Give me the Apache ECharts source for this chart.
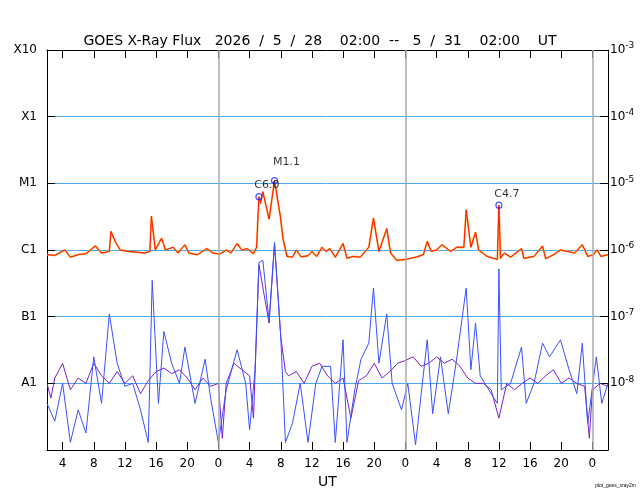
<!DOCTYPE html>
<html>
<head>
<meta charset="utf-8">
<script src="https://cdn.jsdelivr.net/npm/echarts@6/dist/echarts.min.js"></script>
<style>body{margin:0}#box{width:640px;height:500px}</style>
</head>
<body>
<div id="box"></div>
<script>
// hours since 5/28 00:00 UT
const redT = [2,3,4.3,5,6,7,8.2,9,10,10.2,10.8,11.4,12.5,13.5,14.5,15.2,15.4,15.9,16.7,17.2,18.2,18.8,19.7,20.2,21.3,22.5,23.3,24.2,25,25.6,26.4,27,27.7,28.5,28.9,29.2,29.4,29.7,30.5,31.2,31.95,32.3,32.8,33.5,34,34.6,35.5,36,36.6,37.3,37.8,38.3,39,40,40.5,41.3,42.2,43.3,43.9,44.6,45.6,46.1,46.9,48,49.5,50.3,50.8,51.3,52,52.7,53.8,54.6,55.5,55.8,56.4,57,57.4,58.5,59.8,60,60.2,60.7,61.5,62.9,63.2,64.5,65.6,66,67,67.9,68.8,69.7,70.7,71.4,72.1,72.6,73.1,74];
const redV = [8.5e-7,8.3e-7,1e-6,7.8e-7,8.5e-7,8.8e-7,1.15e-6,9e-7,9.5e-7,1.9e-6,1.3e-6,1e-6,9.5e-7,9.3e-7,9e-7,9.5e-7,3.2e-6,1e-6,1.5e-6,1e-6,1.1e-6,9e-7,1.2e-6,9e-7,8.5e-7,1.05e-6,9e-7,8.7e-7,1e-6,9e-7,1.25e-6,1e-6,1.05e-6,8.8e-7,1.1e-6,6.3e-6,5e-6,7.5e-6,2.9e-6,1.1e-5,3.2e-6,1.45e-6,8e-7,7.8e-7,1e-6,7.9e-7,8.2e-7,9.5e-7,8e-7,1.1e-6,9.5e-7,1.05e-6,7.8e-7,1.25e-6,7.5e-7,8e-7,7.8e-7,1.1e-6,3e-6,9.5e-7,2.1e-6,9e-7,7e-7,7.2e-7,7.9e-7,8.5e-7,1.35e-6,9.5e-7,1e-6,1.2e-6,9.5e-7,1.1e-6,1.1e-6,4e-6,1.1e-6,1.85e-6,1e-6,8e-7,7.2e-7,4.7e-6,7.5e-7,9e-7,7.8e-7,1.05e-6,7.5e-7,8e-7,1.15e-6,7.4e-7,8.5e-7,1e-6,9.5e-7,9e-7,1.2e-6,8e-7,8.5e-7,1e-6,8e-7,8.5e-7];

const blueT = [2,3,4,5,6,7,8,9,10,11,12,13,14,15,15.5,16.3,17,18,19,19.7,21,22.3,23,24,25,26.4,27.5,28,28.7,29.2,29.7,30.5,31.2,32,32.6,33.5,34.5,35.5,36.5,37.3,38.4,39,40,40.5,41.5,42.3,43.3,43.9,44.6,45.6,46.3,47.5,48.3,49.3,50.8,51.5,52.5,53.5,54.5,55.8,56.4,57,57.6,59,59.8,60,60.3,61.5,62.9,63.5,64.5,65.6,66.5,67.9,69,70,70.7,71.4,72.5,73.2,74];
const blueV = [5e-9,2.7e-9,1e-8,1.3e-9,4e-9,1.8e-9,2.5e-8,5e-9,1.1e-7,2e-8,9e-9,1e-8,4e-9,1.3e-9,3.5e-7,5e-9,6e-8,2e-8,1e-8,3.5e-8,5e-9,2.3e-8,6e-9,1.3e-9,8e-9,3.2e-8,1e-8,2e-9,1.6e-8,6.5e-7,7e-7,8.5e-8,1.3e-6,5e-8,1.3e-9,2.5e-9,1e-8,1.3e-9,1e-8,1.8e-8,1.8e-8,1.3e-9,4.5e-8,1.3e-9,8e-9,2.3e-8,4e-8,2.7e-7,2e-8,1.1e-7,1e-8,4e-9,1e-8,1.2e-9,4.5e-8,3.5e-9,2.5e-8,3.5e-9,2e-8,2.7e-7,1.6e-8,8e-8,1.3e-8,7e-9,5e-9,5.2e-7,8e-9,1e-8,3.5e-8,5e-9,1e-8,4e-8,2.5e-8,4.5e-8,1.6e-8,7e-9,4e-8,2.5e-9,2.5e-8,5e-9,1e-8];

const purpleT = [2,2.5,3,4,5,6,7,8,9,10,11,12,13,14,15,16,17,18,19,20,21,22,23,24,24.5,25,26,27,28,28.5,29.2,30.5,31.2,32,32.6,33,34,35,36,37,38,39,40,41,42,43,44,45,46,47,48,49,50,51,52,53,54,55,56,57,58,59,60,61,62,63,64,65,66,67,68,69,70,71,71.6,72,73,74];
const purpleV = [1e-8,6e-9,1.2e-8,2e-8,8e-9,1.2e-8,1e-8,2e-8,1.3e-8,1e-8,1.5e-8,1e-8,1.3e-8,7e-9,1.1e-8,1.5e-8,1.7e-8,1.4e-8,1.6e-8,1.2e-8,8e-9,1.2e-8,9e-9,1e-8,1.5e-9,1e-8,2e-8,1.6e-8,1.3e-8,3e-9,6e-7,8e-8,1.2e-6,5e-8,1.5e-8,1.3e-8,1.5e-8,1e-8,1.8e-8,2e-8,1.3e-8,1e-8,1.2e-8,3e-9,1.1e-8,1.3e-8,2e-8,1.2e-8,1.5e-8,2e-8,2.2e-8,2.5e-8,1.8e-8,2e-8,2.5e-8,2e-8,2.3e-8,1.8e-8,1.2e-8,1e-8,1e-8,8e-9,3e-9,1e-8,8e-9,1e-8,1.2e-8,1e-8,1.3e-8,1.6e-8,1e-8,1.2e-8,1e-8,9e-9,1.5e-9,8e-9,1e-8,9e-9];

const flareT = [29.2, 31.2, 60];
const flareV = [6.3e-6, 1.1e-5, 4.7e-6];
const flareLabels = ['C6.0', 'M1.1', 'C4.7'];

const hourTicks = [4,8,12,16,20,24,28,32,36,40,44,48,52,56,60,64,68,72];
const dayLines = [24, 48, 72];
const classLabels = {'-3':'X10','-4':'X1','-5':'M1','-6':'C1','-7':'B1','-8':'A1'};

const zip = (t, v) => t.map((x, i) => [x, v[i]]);
const expOf = v => Math.round(Math.log10(v));

const chart = echarts.init(document.getElementById('box'));

const xBase = {
    type: 'value', min: 2, max: 74,
    axisLine: {lineStyle: {color: '#000'}},
    axisTick: {inside: true, length: 8, customValues: hourTicks, lineStyle: {color: '#000'}},
    splitLine: {show: false}
};
const yBase = {
    type: 'log', min: 1e-9, max: 1e-3, logBase: 10,
    axisLine: {show: true, lineStyle: {color: '#000'}},
    axisTick: {inside: true, length: 8, lineStyle: {color: '#000'}}
};

chart.setOption({
    animation: false,
    textStyle: {fontFamily: 'DejaVu Sans'},
    title: {
        text: 'GOES X-Ray Flux   2026  /  5  /  28    02:00  --   5  /  31    02:00    UT',
        left: 'center', top: 29,
        textStyle: {fontSize: 14, fontWeight: 'normal', color: '#000'}
    },
    graphic: [{
        type: 'text', right: 4, bottom: 12,
        style: {text: 'plot_goes_xray2m', fontSize: 5, fill: '#000'}
    }],
    grid: {left: 47, right: 32, top: 50, bottom: 50},
    xAxis: [
        Object.assign({}, xBase, {
            position: 'bottom',
            name: 'UT', nameLocation: 'middle', nameGap: 20,
            nameTextStyle: {fontSize: 14, color: '#000'},
            axisLabel: {customValues: hourTicks, color: '#000', fontSize: 12, margin: 8,
                formatter: v => String(v % 24)}
        }),
        Object.assign({}, xBase, {position: 'top', axisLabel: {show: false}})
    ],
    yAxis: [
        Object.assign({}, yBase, {
            position: 'left',
            axisLabel: {color: '#000', fontSize: 12, margin: 10,
                formatter: v => classLabels[String(expOf(v))] || ''},
            splitLine: {show: true, lineStyle: {color: '#4aa8ee', width: 1}}
        }),
        Object.assign({}, yBase, {
            position: 'right',
            axisLabel: {color: '#000', fontSize: 12, margin: 2,
                formatter: v => {
                    const e = expOf(v);
                    return e <= -9 ? '' : '10{s|' + e + '}';
                },
                rich: {s: {fontSize: 9, verticalAlign: 'top', padding: [0, 0, 8, 0]}}},
            splitLine: {show: false}
        })
    ],
    series: [
        {
            type: 'line', data: zip(purpleT, purpleV), showSymbol: false,
            lineStyle: {color: '#7a1fcf', width: 1},
            markLine: {
                silent: true, symbol: 'none', label: {show: false},
                lineStyle: {color: '#aaa', width: 1.5, type: 'solid'},
                data: dayLines.map(d => ({xAxis: d}))
            }
        },
        {
            type: 'line', data: zip(blueT, blueV), showSymbol: false,
            lineStyle: {color: '#3a50ff', width: 1}
        },
        {
            type: 'line', data: zip(redT, redV), showSymbol: false,
            lineStyle: {color: '#ff9a30', width: 1.8}
        },
        {
            type: 'line', data: zip(redT, redV), showSymbol: false,
            lineStyle: {color: '#ff1a00', width: 1}
        },
        {
            type: 'scatter', symbol: 'circle', symbolSize: 6, z: 5,
            itemStyle: {color: 'rgba(0,0,0,0)', borderColor: '#1a2aff', borderWidth: 1.2},
            data: zip(flareT, flareV).map((p, i) => ({
                value: p,
                label: {show: true, formatter: flareLabels[i], position: 'top',
                    distance: i === 1 ? 9 : 2, offset: [i === 1 ? 12 : 8, 0],
                    color: '#000', fontSize: 11}
            }))
        }
    ]
});
</script>
</body>
</html>
